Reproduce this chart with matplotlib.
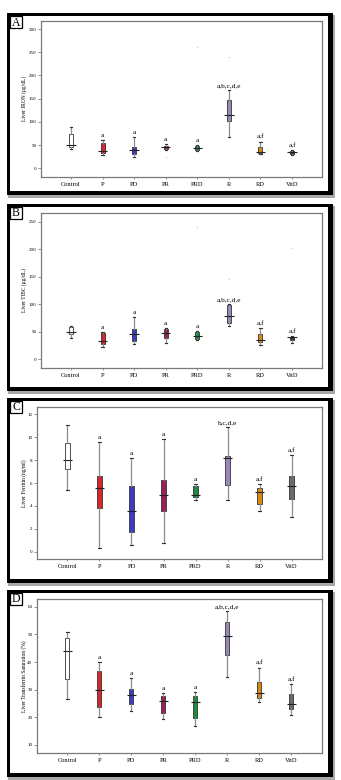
import matplotlib
matplotlib.use('Agg')
import matplotlib.pyplot as plt
from matplotlib.patches import Rectangle

plt.rcParams['font.family'] = ['Liberation Serif', 'DejaVu Serif']

groups = ['Control', 'P', 'PD', 'PR', 'PRD', 'R', 'RD', 'VitD']
colors_ab = ['white', '#d8262b', '#3b3bc4', '#9a1f55', '#1f8b3b', '#9a88b8', '#d98a12', '#2e2e2e']
colors_cd = ['white', '#d8262b', '#3b3bc4', '#9a1f55', '#1f8b3b', '#9a88b8', '#d98a12', '#6b6b6b']

# A - liver iron
iron_lo = [42, 28, 25, 40, 38, 67, 31, 29]
iron_q1 = [46, 32, 31, 42, 39.5, 102, 32, 31]
iron_med = [51, 38, 39, 47, 44, 114, 36, 36]
iron_q3 = [74, 54, 46, 49, 49, 147, 46, 38]
iron_hi = [88, 61, 68, 52, 51, 168, 57, 39]
iron_out = {'PR': [25], 'PRD': [262], 'R': [239]}

# B - liver TIBC
tibc_lo = [38, 21, 27, 29, 34, 60, 25.5, 28.6]
tibc_q1 = [45, 27, 33, 39, 36, 66, 31.5, 34.6]
tibc_med = [50, 33, 45, 47, 42, 78, 35, 39.5]
tibc_q3 = [59, 48, 54, 54, 49, 99, 45, 41]
tibc_hi = [59.5, 48.6, 76, 56, 51, 100, 56, 42]
tibc_out = {'PRD': [241], 'R': [146], 'VitD': [202]}

# C - liver ferritin
fer_lo = [5.42, 0.35, 0.59, 0.79, 4.49, 4.49, 3.56, 3.06]
fer_q1 = [7.23, 3.85, 1.75, 3.6, 4.78, 5.83, 4.14, 4.58]
fer_med = [8.0, 5.57, 3.53, 5.0, 5.0, 8.19, 5.19, 5.74]
fer_q3 = [9.47, 6.65, 5.74, 6.3, 5.77, 8.39, 5.54, 6.62]
fer_hi = [11.07, 9.62, 8.16, 9.82, 5.92, 10.87, 5.89, 8.42]

# D - transferrin saturation
sat_lo = [26.5, 20.2, 22.3, 19.3, 16.9, 34.5, 25.5, 20.8]
sat_q1 = [33.7, 23.6, 24.8, 21.4, 19.6, 42.4, 27.1, 22.9]
sat_med = [44.1, 30.0, 28.1, 25.9, 25.4, 49.3, 28.7, 24.7]
sat_q3 = [48.8, 36.7, 30.1, 27.7, 27.7, 54.6, 32.7, 28.4]
sat_hi = [50.8, 40.0, 34.2, 28.9, 29.3, 58.4, 37.9, 31.9]

sig_abd = ['', 'a', 'a', 'a', 'a', 'a,b,c,d,e', 'a,f', 'a,f']
sig_c = ['', 'a', 'a', 'a', 'a', 'b,c,d,e', 'a,f', 'a,f']

W, H = 341, 780
fig = plt.figure(figsize=(W / 100, H / 100), dpi=100)


def px_rect(x0, y0, x1, y1, **kw):
    return Rectangle((x0 / W, 1 - y1 / H), (x1 - x0) / W, (y1 - y0) / H,
                     transform=fig.transFigure, **kw)


def frame(y0, y1, letter):
    # shadow, black border, white inside
    fig.add_artist(px_rect(8, y0 + 2, 335, y1 + 3, facecolor='#a8a8a8', edgecolor='none', zorder=-4))
    fig.add_artist(px_rect(7, y0, 333, y1, facecolor='black', edgecolor='none', zorder=-3))
    fig.add_artist(px_rect(10, y0 + 3, 328, y1 - 4, facecolor='white', edgecolor='none', zorder=-2))
    fig.add_artist(px_rect(10, y0 + 3, 22, y0 + 15, facecolor='white', edgecolor='black', lw=0.9, zorder=5))
    fig.text(16 / W, 1 - (y0 + 9.5) / H, letter, ha='center', va='center', fontsize=8.5, zorder=6)


def panel(ax_px, lo, q1, med, q3, hi, colors, sig, outliers, ylim, yticks, ylabel, ylab_x):
    x0, y0, x1, y1 = ax_px
    ax = fig.add_axes([x0 / W, 1 - y1 / H, (x1 - x0) / W, (y1 - y0) / H])
    ax.set_facecolor('white')
    stats = []
    for i, g in enumerate(groups):
        stats.append({'label': g, 'whislo': lo[i], 'q1': q1[i], 'med': med[i],
                      'q3': q3[i], 'whishi': hi[i], 'fliers': []})
    pos = list(range(len(groups)))
    bp = ax.bxp(stats, positions=pos, widths=0.13, patch_artist=True, showfliers=False,
                capwidths=0.07,
                whiskerprops=dict(color='#8c8c8c', lw=0.9),
                capprops=dict(color='#333333', lw=0.8),
                medianprops=dict(color='none'),
                boxprops=dict(edgecolor='#333333', lw=0.6))
    for patch, c in zip(bp['boxes'], colors):
        patch.set_facecolor(c)
    ax.hlines(med, [p - 0.15 for p in pos], [p + 0.15 for p in pos], color='#222222', lw=0.8, zorder=4)
    for name, vals in outliers.items():
        i = groups.index(name)
        ax.plot([i] * len(vals), vals, 'o', ms=1.0, color='#b9d9c9' if name != 'R' else '#c8c8c8',
                mec='none')
    for i, s in enumerate(sig):
        if s:
            ax.annotate(s, (i, hi[i]), xytext=(0, 1.5), textcoords='offset points',
                        ha='center', va='bottom', fontsize=5.2)
    ax.set_xlim(-0.96, 7.95)
    ax.set_ylim(*ylim)
    ax.set_yticks(yticks)
    ax.set_xticks(pos)
    ax.set_xticklabels(groups, fontsize=4.6)
    ax.tick_params(axis='y', labelsize=3.6, length=2, width=0.6, color='#808080', pad=1)
    ax.tick_params(axis='x', length=1.5, width=0.6, color='#808080', pad=2)
    for sp in ax.spines.values():
        sp.set_color('#7a7a7a')
        sp.set_linewidth(0.9)
    fig.text(ylab_x / W, 1 - (y0 + y1) / 2 / H, ylabel, rotation=90, ha='center', va='center',
             fontsize=4.0)
    return ax


frame(13, 195, 'A')
frame(204, 391, 'B')
frame(398, 583, 'C')
frame(590, 777, 'D')

panel((40.7, 20.7, 322, 176.7), iron_lo, iron_q1, iron_med, iron_q3, iron_hi, colors_ab, sig_abd,
      iron_out, (-18, 318), range(0, 301, 50), 'Liver IRON (μg/dL)', 24)
panel((40.7, 213, 322, 367.7), tibc_lo, tibc_q1, tibc_med, tibc_q3, tibc_hi, colors_ab, sig_abd,
      tibc_out, (-15.8, 266), range(0, 251, 50), 'Liver TIBC (μg/dL)', 24)
panel((36.7, 406.7, 322, 559.3), fer_lo, fer_q1, fer_med, fer_q3, fer_hi, colors_cd, sig_c,
      {}, (-0.66, 12.67), range(0, 13, 2), 'Liver Ferritin (ng/ml)', 24)
panel((36.7, 599.3, 321.7, 752.7), sat_lo, sat_q1, sat_med, sat_q3, sat_hi, colors_cd, sig_abd,
      {}, (7.2, 62.7), range(10, 61, 10), 'Liver Transferrin Saturation (%)', 24)

fig.savefig('out.png', dpi=100, facecolor='white')
